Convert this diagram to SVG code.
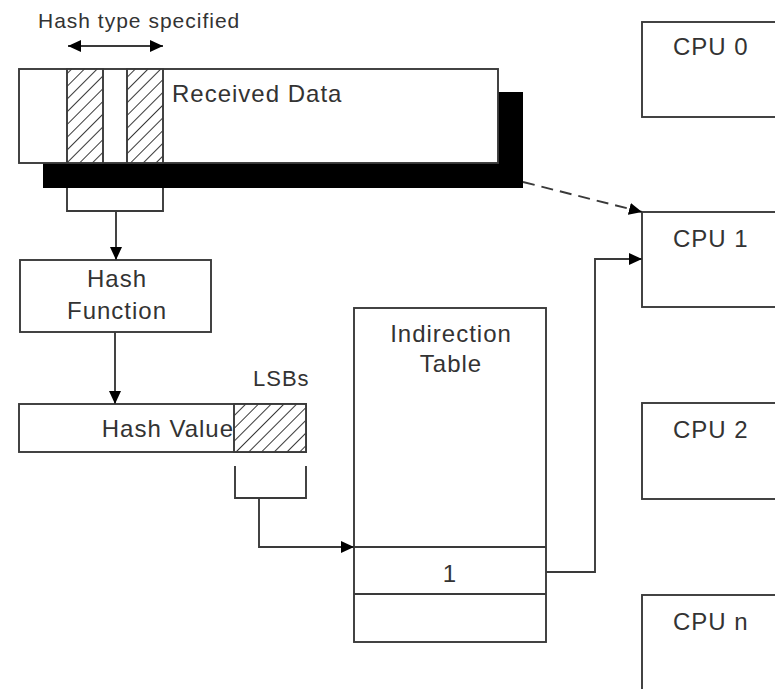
<svg xmlns="http://www.w3.org/2000/svg" width="775" height="689" viewBox="0 0 775 689">
<style>
.box{fill:#fff;stroke:#3a3a3a;stroke-width:1.9}
.hatch{fill:url(#hatch);stroke:#3a3a3a;stroke-width:1.9}
.ln{fill:none;stroke:#3a3a3a;stroke-width:1.9}
.t{font-family:"Liberation Sans",Arial,sans-serif;font-size:24px;letter-spacing:1px;fill:#333}
.s{font-size:21px}
.m{text-anchor:middle}
</style>
<defs>
<pattern id="hatch" patternUnits="userSpaceOnUse" width="9" height="9" patternTransform="rotate(45)">
<rect width="9" height="9" fill="#fff"/>
<line x1="0" y1="0" x2="0" y2="9" stroke="#222" stroke-width="1.8"/>
</pattern>
<marker id="ah" markerUnits="userSpaceOnUse" markerWidth="14" markerHeight="12" refX="13" refY="6" orient="auto-start-reverse">
<path d="M0,0 L13,6 L0,12 z" fill="#000"/>
</marker>
</defs>
<g id="hash-type-label">
<text class="t s" x="38" y="28">Hash type specified</text>
</g>
<g id="received-data">
<rect x="43" y="92" width="480" height="96" fill="#000"/>
<rect class="box" x="19" y="69" width="479" height="94"/>
<rect class="hatch" x="67" y="69" width="36" height="94"/>
<rect class="hatch" x="127" y="69" width="36" height="94"/>
<text class="t" x="172" y="102">Received Data</text>
</g>
<g id="hash-function">
<rect class="box" x="20" y="260" width="191" height="72"/>
<text class="t m" x="117" y="287">Hash</text>
<text class="t m" x="117" y="319">Function</text>
</g>
<g id="hash-value">
<rect class="box" x="19" y="404" width="287" height="48"/>
<rect class="hatch" x="234" y="404" width="72" height="48"/>
<text class="t" x="234" y="437" text-anchor="end">Hash Value</text>
<text class="t" x="253" y="386" style="font-size:22px">LSBs</text>
</g>
<g id="indirection-table">
<rect class="box" x="354" y="308" width="192" height="334"/>
<line class="ln" x1="354" y1="547" x2="546" y2="547"/>
<line class="ln" x1="354" y1="594" x2="546" y2="594"/>
<text class="t m" x="451" y="342">Indirection</text>
<text class="t m" x="451" y="372">Table</text>
<text class="t m" x="450" y="582">1</text>
</g>
<g id="cpu0">
<rect class="box" x="642" y="22" width="160" height="95"/>
<text class="t" x="673" y="55">CPU 0</text>
</g>
<g id="cpu1">
<rect class="box" x="642" y="212" width="160" height="95"/>
<text class="t" x="673" y="247">CPU 1</text>
</g>
<g id="cpu2">
<rect class="box" x="642" y="403" width="160" height="96"/>
<text class="t" x="673" y="438">CPU 2</text>
</g>
<g id="cpun">
<rect class="box" x="642" y="595" width="160" height="120"/>
<text class="t" x="673" y="630">CPU n</text>
</g>
<g id="connectors">
<line class="ln" x1="68" y1="46" x2="163" y2="46" marker-start="url(#ah)" marker-end="url(#ah)"/>
<path class="ln" d="M67,188 V211 H163 V188"/>
<path class="ln" d="M116,211 V260" marker-end="url(#ah)"/>
<path class="ln" d="M115,332 V404" marker-end="url(#ah)"/>
<path class="ln" d="M235,466 V498 H306 V466"/>
<path class="ln" d="M259,498 V547 H354" marker-end="url(#ah)"/>
<path class="ln" d="M546,572 H595 V259 H642" marker-end="url(#ah)"/>
<path class="ln" d="M523,182 L642,212" stroke-dasharray="12,7" marker-end="url(#ah)"/>
</g>
</svg>
